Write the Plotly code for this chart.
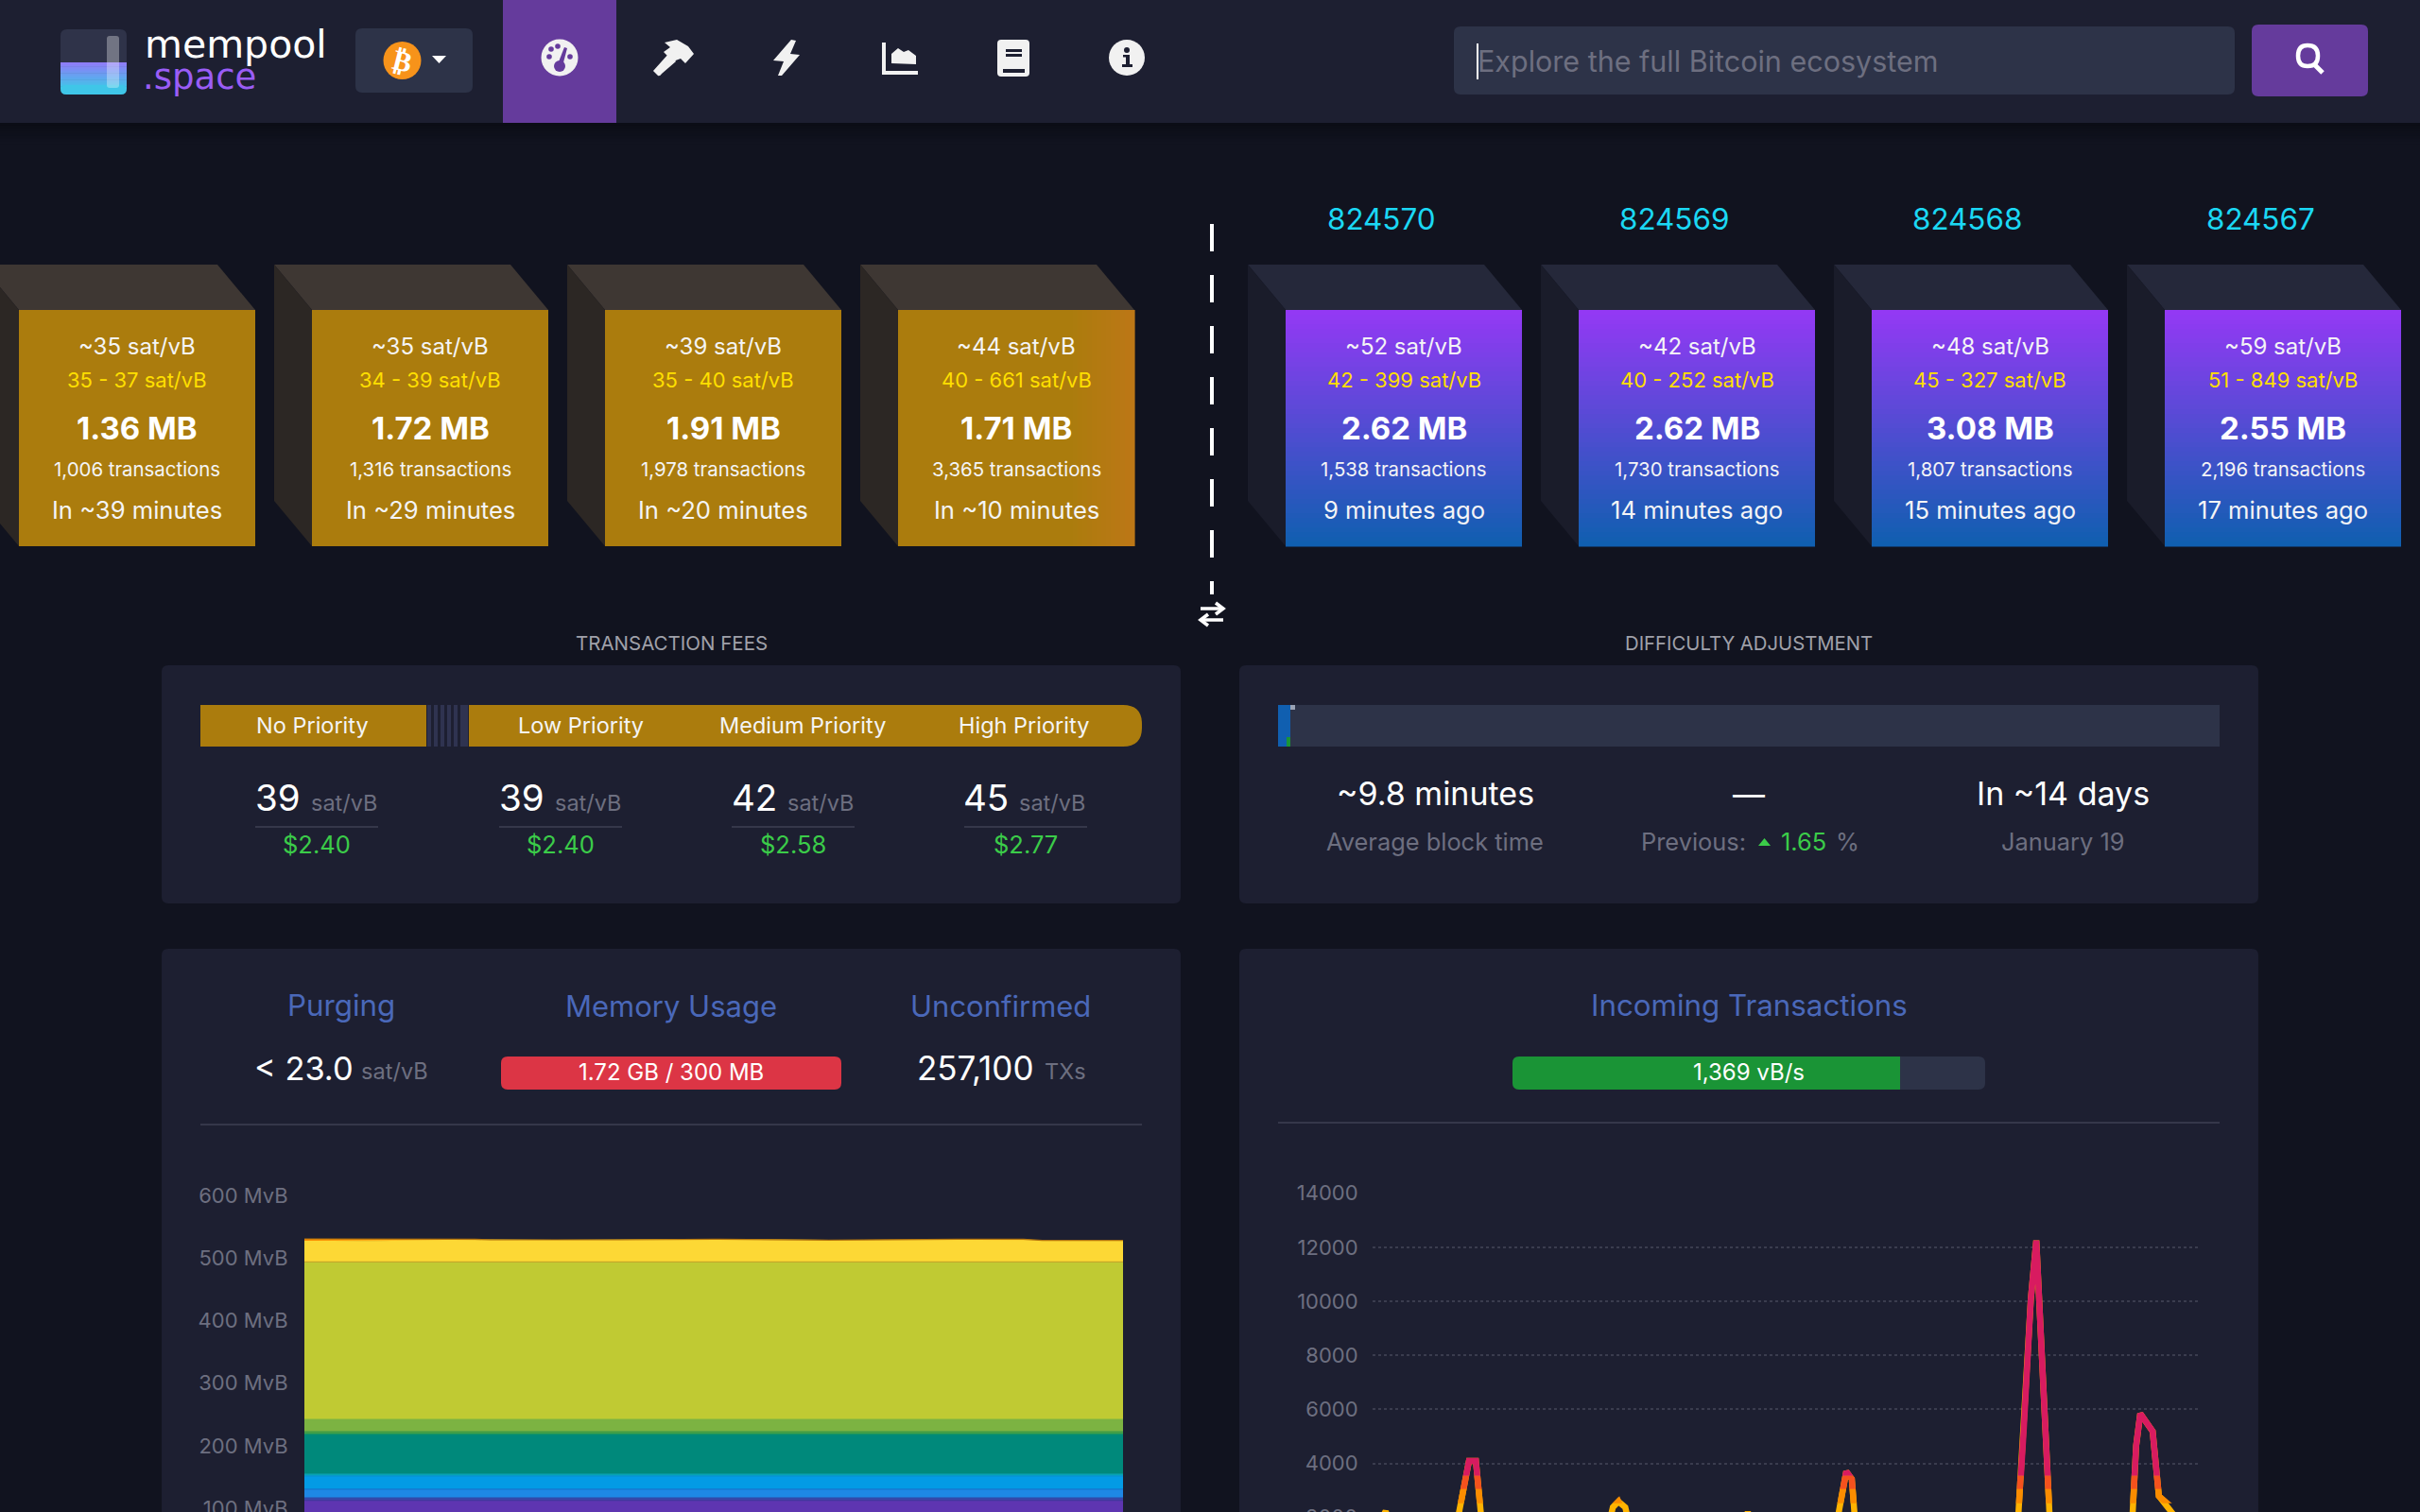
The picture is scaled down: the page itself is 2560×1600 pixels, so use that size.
import re
import plotly.graph_objects as go

W, H = 2560, 1600
FONT = "Inter"

# --- blocks ---
MEMPOOL_FEE = ["~35 sat/vB", "~35 sat/vB", "~39 sat/vB", "~44 sat/vB"]
MEMPOOL_RANGE = ["35 - 37 sat/vB", "34 - 39 sat/vB", "35 - 40 sat/vB", "40 - 661 sat/vB"]
MEMPOOL_SIZE = ["1.36 MB", "1.72 MB", "1.91 MB", "1.71 MB"]
MEMPOOL_TXS = ["1,006 transactions", "1,316 transactions", "1,978 transactions", "3,365 transactions"]
MEMPOOL_ETA = ["In ~39 minutes", "In ~29 minutes", "In ~20 minutes", "In ~10 minutes"]

HEIGHTS = ["824570", "824569", "824568", "824567"]
BLOCK_FEE = ["~52 sat/vB", "~42 sat/vB", "~48 sat/vB", "~59 sat/vB"]
BLOCK_RANGE = ["42 - 399 sat/vB", "40 - 252 sat/vB", "45 - 327 sat/vB", "51 - 849 sat/vB"]
BLOCK_SIZE = ["2.62 MB", "2.62 MB", "3.08 MB", "2.55 MB"]
BLOCK_TXS = ["1,538 transactions", "1,730 transactions", "1,807 transactions", "2,196 transactions"]
BLOCK_AGE = ["9 minutes ago", "14 minutes ago", "15 minutes ago", "17 minutes ago"]

# --- fees ---
PRIORITY = ["No Priority", "Low Priority", "Medium Priority", "High Priority"]
PRIORITY_FEE = ["39", "39", "42", "45"]
PRIORITY_USD = ["$2.40", "$2.40", "$2.58", "$2.77"]

# --- mempool chart (MvB per fee band, minutes on x) ---
MEM_MINUTES = [0, 13.6, 25, 27.4, 36.7, 45.9, 60, 76.9, 95.7, 105.4, 108.2, 120]
MEM_PURPLE = [112.6] * 12
MEM_INDIGO = [4.0] * 12
MEM_BLUE = [13.8] * 12
MEM_SKY = [21.1] * 12
MEM_CYAN = [3.0] * 12
MEM_TEAL = [63.5] * 12
MEM_GREEN = [4.4] * 12
MEM_LIGHTGREEN = [19.6] * 12
MEM_LIME = [251.8] * 12
MEM_YELLOW = [32.7, 33.7, 34.7, 34.9, 34.4, 34.9, 35.8, 34.4, 34.2, 34.7, 33.9, 33.9]
MEM_ORANGE = [4.0, 3.0, 1.5, 0.3, 0.3, 0.3, 0.4, 0.3, 2.0, 1.5, 0.3, 0.3]
MEM_TICKS = [100, 200, 300, 400, 500, 600]
MEM_COLORS = ["#5e35b1", "#3949ab", "#1e88e5", "#039be5", "#00acc1", "#00897b",
              "#43a047", "#7cb342", "#c0ca33", "#fdd835", "#fb8c00"]
MEM_EDGES = ["#3f3a9e", "#2f4aa8", "#1576cf", "#0a90cc", "#0b9aa5", "#0a8f6d",
             "#3d9a48", "#7cb342", "#c4a82a", "#fdd835", "#b5760f"]

# --- incoming transactions (vB/s, minutes on x) ---
VB_MINUTES = [0, 1.0, 1.9, 2.9, 11.9, 14.0, 15.0, 16.1, 34.1, 34.9, 35.7, 36.7, 37.5,
              53.5, 54.5, 55.5, 66.7, 68.8, 69.6, 70.4, 93.5, 94.6, 95.6, 96.4, 97.4,
              98.3, 99.3, 109.6, 110.4, 110.9, 111.5, 113.3, 114.2, 116.2, 117.1, 120]
VB_VALUES = [1500, 1800, 2230, 1300, 1320, 4090, 4090, 1150, 1500, 2375, 2585, 2375, 1500,
             1300, 2200, 1300, 800, 3700, 3420, 800, 800, 5350, 10070, 12250, 6750,
             2200, 800, 800, 2200, 4650, 5840, 5180, 2790, 2200, 1850, 1500]
VB_TICKS = [4000, 6000, 8000, 10000, 12000, 14000]

BG = "#11131f"
CARD = "#1d1f31"
INPUT = "#2d3348"
GOLD = "#ab7c0d"
GREY = "#6d6f80"
WHITE = "#f4f4f6"
GREEN = "#3bcc49"
TITLE_BLUE = "#4a68b9"
ICON = "#f1f1f1"

fig = go.Figure()
shapes = []
notes = []


def scale_path(path, ox=0, oy=0):
    # numbers in a path alternate x, y in page pixels, paper coords go to plotly
    out, is_x = [], True
    for tok in re.findall(r"[A-Za-z]|-?[\d.]+", path):
        if tok.isalpha():
            out.append(tok)
        elif is_x:
            out.append(f"{(float(tok) + ox) / W:.5f}")
            is_x = False
        else:
            out.append(f"{1 - (float(tok) + oy) / H:.5f}")
            is_x = True
    return " ".join(out)


def shape_path(path, color=None, ox=0, oy=0, line=None, lw=0):
    shapes.append(dict(type="path", xref="paper", yref="paper", path=scale_path(path, ox, oy),
                       fillcolor=color or "rgba(0,0,0,0)", layer="below",
                       line=dict(width=lw, color=line or "rgba(0,0,0,0)")))


def rect(x0, y0, x1, y1, color):
    shapes.append(dict(type="rect", xref="paper", yref="paper", x0=x0 / W, x1=x1 / W,
                       y0=1 - y0 / H, y1=1 - y1 / H, fillcolor=color, layer="below",
                       line=dict(width=0)))


def rrect(x0, y0, x1, y1, r, color, left=True):
    lr = r if left else 0
    shape_path(f"M {x0 + lr} {y0} L {x1 - r} {y0} Q {x1} {y0} {x1} {y0 + r} L {x1} {y1 - r} "
               f"Q {x1} {y1} {x1 - r} {y1} L {x0 + lr} {y1} Q {x0} {y1} {x0} {y1 - lr} "
               f"L {x0} {y0 + lr} Q {x0} {y0} {x0 + lr} {y0} Z", color)


def circle(cx, cy, r, color):
    shapes.append(dict(type="circle", xref="paper", yref="paper", x0=(cx - r) / W, x1=(cx + r) / W,
                       y0=1 - (cy - r) / H, y1=1 - (cy + r) / H, fillcolor=color, layer="below",
                       line=dict(width=0)))


def mix(c0, c1, t):
    a = [int(c0[i:i + 2], 16) for i in (1, 3, 5)]
    b = [int(c1[i:i + 2], 16) for i in (1, 3, 5)]
    return "rgb({},{},{})".format(*[round(p + (q - p) * t) for p, q in zip(a, b)])


def vgrad(x0, y0, x1, y1, c0, c1, n=50):
    step = (y1 - y0) / n
    for i in range(n):
        rect(x0, y0 + i * step, x1, y0 + (i + 1) * step + 0.6, mix(c0, c1, i / (n - 1)))


def hgrad(x0, y0, x1, y1, c0, c1, n=14):
    step = (x1 - x0) / n
    for i in range(n):
        rect(x0 + i * step, y0, x0 + (i + 1) * step + 0.6, y1, mix(c0, c1, i / (n - 1)))


def txt(x, y, text, size, color=WHITE, anchor="center", weight=None, family=FONT, angle=0):
    notes.append(dict(xref="paper", yref="paper", x=x / W, y=1 - y / H, text=text, showarrow=False,
                      xanchor=anchor, yanchor="middle", textangle=angle, borderpad=0,
                      font=dict(family=family, size=size, color=color, weight=weight)))


# --- page chrome ---
vgrad(0, 130, W, 152, "#0b0d16", BG, n=8)
rect(0, 0, W, 130, CARD)
rect(532, 0, 652, 130, "#653b9c")

# logo
rrect(64, 31, 134, 100, 7, "#2f3349")
vgrad(64, 66, 134, 94, "#8f7cf8", "#3fc6e8", n=20)
rrect(64, 90, 134, 100, 6, "#3fc6e8")
rrect(113, 38, 126, 93, 3, "rgba(255,255,255,0.32)")
txt(152, 47, "mempool", 41, "#ffffff", "left", family="DejaVu Sans")
txt(150, 81, ".space", 37, "#9a5df6", "left", family="DejaVu Sans")

# network selector
rrect(376, 30, 500, 98, 7, INPUT)
circle(425.5, 64, 20, "#f7931a")
txt(425.5, 64, "<b>₿</b>", 30, "#ffffff", angle=14, family="DejaVu Sans")
shape_path("M 457 59 L 472 59 L 464.5 67 Z", "#ffffff")

# nav icons
circle(592, 61, 19.5, ICON)
for dx, dy in [(-11, -1), (-2, -12), (11, -1), (-9, -9)]:
    circle(592 + dx, 61 + dy, 2.8, "#653b9c")
circle(592, 70, 6, "#653b9c")
shape_path("M 590 68 L 597 50 L 600 51 L 595 70 Z", "#653b9c")
shape_path("M -9 -17 L 4 -20 L 16 -13 L 22 -5 L 13 5 L 8 0 L 0 3 L -10 -7 L -3 -12 Z", ICON, 712, 62)
shape_path("M -21 13 L -16 18 Q -14 19 -12 16 L 3 3 L -4 -6 Z", ICON, 712, 62)
shape_path("M 5 -20 L 10 -19 L 4 -5 L 14 -4 L -5 18 L -9 18 L -3 3 L -14 2 Z", ICON, 832, 62)
shape_path("M -17 -17 L -17 15 L 19 15", None, 952, 62, line=ICON, lw=4)
shape_path("M -9 5 L -9 -5 L -2 -11 L 4 -7 L 9 -9 L 17 -3 L 17 6 Z", ICON, 952, 62)
rrect(1055, 42, 1089, 81, 4, ICON)
rect(1064, 52, 1081, 55, "#1d1f31")
rect(1064, 57, 1081, 60, "#1d1f31")
rect(1061, 73, 1084, 77, "#1d1f31")
circle(1192, 61, 19, ICON)
circle(1192, 53, 3, CARD)
rect(1188, 58, 1195, 60.5, CARD)
rect(1191, 58, 1195, 70, CARD)
rect(1187, 68, 1198, 71, CARD)

# search box
rrect(1538, 28, 2364, 100, 7, INPUT)
rrect(2382, 26, 2505, 102, 7, "#653b9c")
txt(1562, 64.5, "Explore the full Bitcoin ecosystem", 30.5, GREY, "left")
rect(1562, 46, 1564, 84, "#ffffff")
shape_path("M 2431 59 Q 2431 48 2441 48 Q 2452 48 2452 59 Q 2452 70 2441 70 Q 2431 70 2431 59 Z",
           None, line="#ffffff", lw=4.5)
shape_path("M 2448 68 L 2457 77", None, line="#ffffff", lw=5)


# --- blocks ---
def block_faces(left, top_col, side_col):
    shape_path(f"M {left - 40} 280 L {left + 210} 280 L {left + 250} 328 L {left} 328 Z", top_col)
    shape_path(f"M {left - 40} 280 L {left} 328 L {left} 578 L {left - 40} 530 Z", side_col)


def block_text(cx, fee, span, size, txs, when):
    txt(cx, 366, fee, 24)
    txt(cx, 402, span, 22, "#ffdf00")
    txt(cx, 453, size, 33, "#ffffff", weight=700)
    txt(cx, 497, txs, 20.4)
    txt(cx, 539, when, 25.6)


for i, left in enumerate([20, 330, 640, 950]):
    block_faces(left, "#3e3733", "#2c2724")
    rect(left, 328, left + 250, 578, GOLD)
    if i == 3:
        hgrad(left + 180, 328, left + 250, 578, GOLD, "#bc7716")
    block_text(left + 125, MEMPOOL_FEE[i], MEMPOOL_RANGE[i], MEMPOOL_SIZE[i], MEMPOOL_TXS[i], MEMPOOL_ETA[i])

for i, left in enumerate([1360, 1670, 1980, 2290]):
    block_faces(left, "#25283a", "#1a1c2a")
    vgrad(left, 328, left + 250, 578, "#9339f4", "#105fb0")
    txt(left + 101, 232, HEIGHTS[i], 31.4, "#1bd8f4")
    block_text(left + 125, BLOCK_FEE[i], BLOCK_RANGE[i], BLOCK_SIZE[i], BLOCK_TXS[i], BLOCK_AGE[i])

# divider and swap arrows
shapes.append(dict(type="line", xref="paper", yref="paper", x0=1282 / W, x1=1282 / W, y0=1 - 237 / H,
                   y1=1 - 629 / H, layer="below", line=dict(color="#ffffff", width=4, dash="29px,25px")))
shape_path("M 1270 644 L 1292 644", None, line="#ffffff", lw=3.5)
shape_path("M 1286 638 L 1294 644 L 1286 650", None, line="#ffffff", lw=3.5)
shape_path("M 1272 656 L 1294 656", None, line="#ffffff", lw=3.5)
shape_path("M 1278 650 L 1270 656 L 1278 662", None, line="#ffffff", lw=3.5)

# --- fee card ---
txt(710, 681, "TRANSACTION FEES", 20.5, "#a0a1aa")
rrect(171, 704, 1249, 956, 7, CARD)
rect(212, 746, 451, 790, GOLD)
rrect(496, 746, 1208, 790, 20, GOLD, left=False)
for sx in [452, 459, 466, 473, 480, 487, 491]:
    rect(sx, 746, sx + 4, 790, "#2f3350")
for cx, label in zip([330, 614, 849, 1083], PRIORITY):
    txt(cx, 767, label, 23.5)
for cx, x_num, fee, usd in zip([335, 593, 839, 1085], [269, 527, 773, 1018], PRIORITY_FEE, PRIORITY_USD):
    txt(x_num, 844, fee, 38.5, "#ffffff", "left")
    txt(x_num + 59, 849, "sat/vB", 23.5, GREY, "left")
    rect(cx - 65, 874, cx + 65, 876, "#35374a")
    txt(cx, 893, usd, 25.5, GREEN)

# --- difficulty card ---
txt(1850, 681, "DIFFICULTY ADJUSTMENT", 20.3, "#a0a1aa")
rrect(1311, 704, 2389, 956, 7, CARD)
rect(1352, 746, 2348, 790, INPUT)
rect(1352, 746, 1365, 790, "#105fb0")
rect(1361, 780, 1365, 790, "#1a9436")
rect(1365, 746, 1370, 751, "#9aa3b5")
txt(1518, 839, "~9.8 minutes", 34, "#ffffff")
txt(1850, 840, "—", 34, "#ffffff")
txt(2182, 839, "In ~14 days", 34, "#ffffff")
txt(1518, 890, "Average block time", 25.4, GREY)
txt(1735, 890, "Previous:", 25.4, GREY, "left")
shape_path("M 1860 895 L 1873 895 L 1866.5 887 Z", GREEN)
txt(1883, 890, "1.65", 25.4, GREEN, "left")
txt(1941, 890, "%", 25.4, GREY, "left")
txt(2182, 890, "January 19", 25.4, GREY)

# --- lower cards ---
rrect(171, 1004, 1249, 1640, 7, CARD)
rrect(1311, 1004, 2389, 1640, 7, CARD)

txt(361, 1064, "Purging", 31.3, TITLE_BLUE)
txt(710, 1064, "Memory Usage", 31, TITLE_BLUE)
txt(1058, 1064, "Unconfirmed", 31, TITLE_BLUE)
txt(268, 1130, "&lt; 23.0", 34.4, "#ffffff", "left")
txt(381, 1133, "sat/vB", 23.6, GREY, "left")
rrect(530, 1118, 890, 1153, 7, "#dc3545")
txt(710, 1134, "1.72 GB / 300 MB", 24, "#ffffff")
txt(969, 1130, "257,100", 35, "#ffffff", "left")
txt(1104, 1133, "TXs", 23.5, GREY, "left")
rect(212, 1189, 1208, 1191, "#35374a")

txt(1850, 1064, "Incoming Transactions", 31.3, TITLE_BLUE)
rrect(1600, 1118, 2100, 1153, 7, INPUT)
rrect(1600, 1118, 2010, 1153, 7, "#1a9436")
rect(1990, 1118, 2010, 1153, "#1a9436")
txt(1850, 1134, "1,369 vB/s", 24, "#ffffff")
rect(1352, 1187, 2348, 1189, "#35374a")
txt(1437, 1605, "2000", 22, GREY, "right")

# --- mempool chart ---
mem_layers = [MEM_PURPLE, MEM_INDIGO, MEM_BLUE, MEM_SKY, MEM_CYAN, MEM_TEAL, MEM_GREEN,
              MEM_LIGHTGREEN, MEM_LIME, MEM_YELLOW, MEM_ORANGE]
for vals, col, edge in zip(mem_layers, MEM_COLORS, MEM_EDGES):
    fig.add_trace(go.Scatter(x=MEM_MINUTES, y=vals, mode="lines", stackgroup="mem", fillcolor=col,
                             line=dict(color=edge, width=1.2), xaxis="x", yaxis="y", hoverinfo="skip"))

# --- incoming chart, same line repeated on clipped axes for the colour bands ---
VB_LOW, VB_HIGH = 2198, 14000
VB_TOP = (H - 1262.7) / H


def vb_dom(v):
    return (v - VB_LOW) / (VB_HIGH - VB_LOW) * VB_TOP


bands = [("y2", "#ffb300", None, None), ("y3", "#fb8c00", 2523, 3048),
         ("y4", "#f4511e", 3048, 3538), ("y5", "#d81b60", 3538, 14000)]
for axis, col, lo, hi in bands:
    fig.add_trace(go.Scatter(x=VB_MINUTES, y=VB_VALUES, mode="lines", xaxis="x2", yaxis=axis,
                             line=dict(color=col, width=6.5), hoverinfo="skip"))
    if lo is not None:
        fig.update_layout({"yaxis" + axis[1:]: dict(domain=[vb_dom(lo), vb_dom(hi)], range=[lo, hi],
                                                    anchor="x2", visible=False, automargin=False)})

tick_font = dict(family=FONT, size=22, color=GREY)
fig.update_layout(
    width=W, height=H, margin=dict(l=0, r=0, t=0, b=0, pad=0, autoexpand=False),
    paper_bgcolor=BG, plot_bgcolor="rgba(0,0,0,0)", showlegend=False, hovermode=False,
    shapes=shapes, annotations=notes,
    xaxis=dict(domain=[322 / W, 1188 / W], range=[0, 120], visible=False, anchor="y", automargin=False),
    yaxis=dict(domain=[0, (H - 1265) / H], range=[94, 600], tickvals=MEM_TICKS,
               ticktext=[f"{t} MvB" for t in MEM_TICKS], tickfont=tick_font, showline=False,
               zeroline=False, ticks="outside", ticklen=12, tickcolor="rgba(0,0,0,0)",
               gridcolor="#3a3c4e", griddash="dot", gridwidth=2, anchor="x", automargin=False,
               ticklabeloverflow="allow"),
    xaxis2=dict(domain=[1452 / W, 2326 / W], range=[0, 120], visible=False, anchor="y2", automargin=False),
    yaxis2=dict(domain=[0, VB_TOP], range=[VB_LOW, VB_HIGH], tickvals=VB_TICKS,
                ticktext=[str(t) for t in VB_TICKS],
                tickfont=tick_font, showline=False, zeroline=False, ticks="outside", ticklen=10,
                tickcolor="rgba(0,0,0,0)", gridcolor="#3a3c4e", griddash="dot", gridwidth=2,
                anchor="x2", automargin=False, ticklabeloverflow="allow"),
)

page_css = f"document.body.style.margin='0';document.body.style.background='{BG}';"
fig.write_html("out.html", config=dict(displayModeBar=False), post_script=page_css)
